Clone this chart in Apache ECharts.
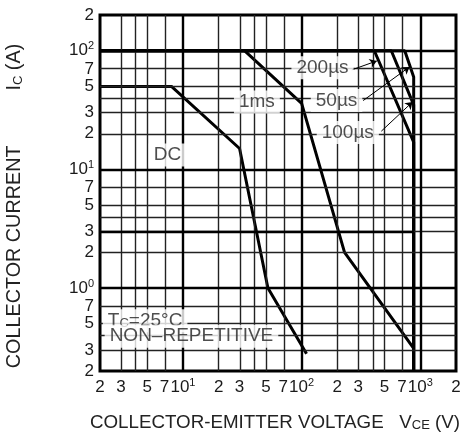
<!DOCTYPE html>
<html><head><meta charset="utf-8">
<script src="https://cdn.jsdelivr.net/npm/echarts@6/dist/echarts.min.js"></script>
<style>html,body{margin:0;padding:0;background:#fff}#c{width:468px;height:440px}</style>
</head><body><div id="c"></div>
<script>
// ---- data (volts, amperes) ----
const dcV = [2, 8, 30, 52, 110];
const dcI = [50, 50, 15, 1, 0.28];
const ms1V = [2, 33, 100, 230, 880];
const ms1I = [100, 100, 36, 2, 0.31];
const us200V = [2, 410, 880, 880];
const us200I = [100, 100, 17, 0.2];
const us100V = [2, 570, 880, 880];
const us100I = [100, 100, 35, 0.2];
const us50V = [2, 740, 880, 880];
const us50I = [100, 100, 60, 0.2];

// axis ticks / gridlines / labels
const xGrid = [3, 4, 5, 7, 20, 30, 40, 50, 70, 200, 300, 400, 500, 700];
const xMajor = [10, 100, 1000];
const xLabels = [2, 3, 5, 7, 10, 20, 30, 50, 70, 100, 200, 300, 500, 700, 1000, 2000];
const yGrid = [0.3, 0.4, 0.5, 0.7, 2, 3, 4, 5, 7, 20, 30, 40, 50, 70];
const yMajor = [1, 10, 100];
const yLabels = [0.2, 0.3, 0.5, 0.7, 1, 2, 3, 5, 7, 10, 20, 30, 50, 70, 100, 200];
const xRange = [2, 2000];
const yRange = [0.2, 200];

// bold segment at 3 A
const boldV = [2, 880];
const boldI = [3, 3];

// annotations
const annoText = ['DC', '1ms', '200µs', '50µs', '100µs', 'T{s|C}=25°C', 'NON–REPETITIVE'];
const annoV = [7.4, 42, 150, 197, 245, 4.8, 11.8];
const annoI = [13.2, 37, 72, 38, 20.5, 0.53, 0.393];

// leaders (from label to curve)
const leadFromV = [265, 330, 470];
const leadFromI = [69, 38, 21];
const leadToV = [430, 810, 860];
const leadToI = [82, 73, 37];

const L = Math.log10;
const pts = (V, I) => V.map((v, k) => [L(v), L(I[k])]);

function tickText(val) {
  const e = Math.round(val);
  if (Math.abs(val - e) < 1e-6) return '{b|10}{sup|' + e + '}';
  const v = Math.pow(10, val);
  const d = Math.round(v / Math.pow(10, Math.floor(val + 1e-9)));
  return '{b|' + d + '}';
}

const FONT = 'Liberation Sans, Arial, sans-serif';
const tickRich = {
  b: { fontSize: 17, lineHeight: 20, fontFamily: FONT, color: '#1a1a1a' },
  sup: { fontSize: 11, lineHeight: 14, verticalAlign: 'top', fontFamily: FONT, color: '#1a1a1a' }
};
const subRich = () => ({
  s: { fontSize: 13, lineHeight: 16, verticalAlign: 'bottom', fontFamily: FONT, color: '#222' }
});

const gridLines = [];
xGrid.forEach(v => gridLines.push({ xAxis: L(v), lineStyle: { color: '#222', width: 1.4, type: 'solid' } }));
yGrid.forEach(v => gridLines.push({ yAxis: L(v), lineStyle: { color: '#222', width: 1.4, type: 'solid' } }));
xMajor.forEach(v => gridLines.push({ xAxis: L(v), lineStyle: { color: '#000', width: 2.4, type: 'solid' } }));
yMajor.forEach(v => gridLines.push({ yAxis: L(v), lineStyle: { color: '#000', width: 2.4, type: 'solid' } }));
const boldSeg = pts(boldV, boldI);
gridLines.push([{ coord: boldSeg[0], lineStyle: { color: '#000', width: 2.4, type: 'solid' } }, { coord: boldSeg[1] }]);

const curveStyle = { color: '#000', width: 3 };
const mkCurve = (name, V, I) => ({
  name, type: 'line', data: pts(V, I), symbol: 'none', silent: true, z: 3,
  lineStyle: curveStyle, itemStyle: { color: '#000' }
});

const chart = echarts.init(document.getElementById('c'), null, { renderer: 'canvas' });
chart.setOption({
  animation: false,
  backgroundColor: '#fff',
  grid: { left: 100, right: 12, top: 15, bottom: 69, show: true, borderColor: '#000', borderWidth: 3, backgroundColor: 'transparent' },
  xAxis: {
    type: 'value', min: L(xRange[0]), max: L(xRange[1]),
    axisLine: { show: false }, axisTick: { show: false }, splitLine: { show: false },
    axisLabel: { customValues: xLabels.map(L), formatter: tickText, rich: tickRich, margin: 6, color: '#1a1a1a' },
    name: 'COLLECTOR-EMITTER VOLTAGE   V{s|CE} (V)', nameLocation: 'middle', nameGap: 42,
    nameTextStyle: { fontSize: 18.75, fontFamily: FONT, color: '#222', rich: subRich(), padding: [0, 6, 0, 0] }
  },
  yAxis: {
    type: 'value', min: L(yRange[0]), max: L(yRange[1]),
    axisLine: { show: false }, axisTick: { show: false }, splitLine: { show: false },
    axisLabel: { customValues: yLabels.map(L), formatter: tickText, rich: tickRich, margin: 6, color: '#1a1a1a' }
  },
  graphic: [{
    type: 'text', x: 15, y: 206, rotation: Math.PI / 2,
    style: { text: 'COLLECTOR CURRENT          I{s|C} (A)', fontSize: 19.8, fontFamily: FONT, fill: '#222', align: 'center', verticalAlign: 'middle', rich: subRich() }
  }],
  series: [
    { name: 'grid', type: 'line', data: [], z: 1, silent: true,
      markLine: { silent: true, symbol: 'none', label: { show: false }, animation: false, data: gridLines } },
    mkCurve('DC', dcV, dcI),
    mkCurve('1ms', ms1V, ms1I),
    mkCurve('200µs', us200V, us200I),
    mkCurve('100µs', us100V, us100I),
    mkCurve('50µs', us50V, us50I),
    { name: 'leaders', type: 'line', data: [], z: 4, silent: true,
      markLine: { silent: true, symbol: ['none', 'arrow'], symbolSize: 7, label: { show: false }, animation: false,
        lineStyle: { color: '#000', width: 1, type: 'solid' },
        data: leadFromV.map((v, k) => [{ coord: [L(v), L(leadFromI[k])] }, { coord: [L(leadToV[k]), L(leadToI[k])] }]) } },
    { name: 'labels', type: 'scatter', z: 5, silent: true, symbolSize: 0,
      data: annoV.map((v, k) => [L(v), L(annoI[k]), annoText[k]]),
      label: { show: true, position: 'inside', formatter: p => p.data[2], fontSize: 19, fontFamily: FONT, color: '#222',
        backgroundColor: '#fff', padding: [2, 5],
        rich: { s: { fontSize: 13, lineHeight: 16, verticalAlign: 'bottom', fontFamily: FONT, color: '#222' } } } }
  ]
});
</script></body></html>
